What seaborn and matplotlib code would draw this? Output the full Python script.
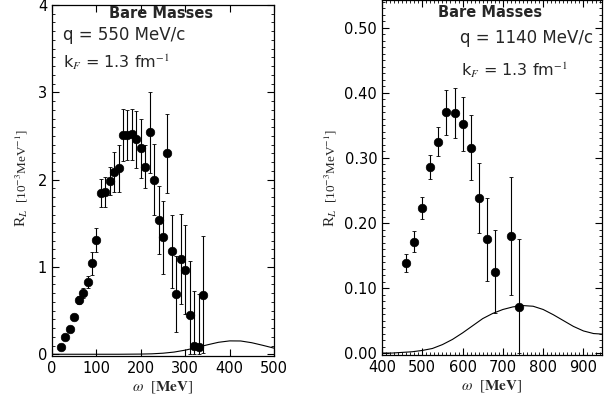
import numpy as np
import pandas as pd
import seaborn as sns
import matplotlib.pyplot as plt
from matplotlib.ticker import MultipleLocator

# q = 550 MeV/c panel
w_550 = [20, 30, 40, 50, 60, 70, 80, 90, 100, 110, 120, 130, 140, 150, 160, 170,
         180, 190, 200, 210, 220, 230, 240, 250, 260, 270, 280, 290, 300, 310,
         320, 330, 340]
rl_550 = [0.08, 0.20, 0.29, 0.43, 0.62, 0.70, 0.83, 1.04, 1.31, 1.85, 1.86, 1.98,
          2.09, 2.13, 2.51, 2.51, 2.52, 2.46, 2.36, 2.15, 2.54, 2.00, 1.54, 1.34,
          2.30, 1.18, 0.69, 1.09, 0.97, 0.45, 0.09, 0.08, 0.68]
err_550 = [0.02, 0.02, 0.03, 0.03, 0.05, 0.06, 0.07, 0.13, 0.14, 0.16, 0.17, 0.16,
           0.23, 0.27, 0.30, 0.29, 0.29, 0.33, 0.34, 0.25, 0.46, 0.41, 0.39, 0.42,
           0.45, 0.42, 0.43, 0.52, 0.51, 0.62, 0.64, 0.61, 0.67]
curve_w_550 = [0, 100, 150, 200, 225, 250, 275, 300, 325, 350, 375, 400, 425, 450,
               475, 500]
curve_rl_550 = [0.0, 0.0, 0.0, 0.002, 0.005, 0.012, 0.025, 0.047, 0.076, 0.108,
                0.137, 0.153, 0.152, 0.132, 0.102, 0.070]

# q = 1140 MeV/c panel
w_1140 = [460, 480, 500, 520, 540, 560, 580, 600, 620, 640, 660, 680, 720, 740]
rl_1140 = [0.138, 0.171, 0.223, 0.286, 0.325, 0.370, 0.369, 0.352, 0.316, 0.238,
           0.175, 0.125, 0.180, 0.071]
err_1140 = [0.014, 0.016, 0.017, 0.019, 0.022, 0.034, 0.039, 0.042, 0.050, 0.054,
            0.064, 0.064, 0.091, 0.104]
curve_w_1140 = [400, 425, 450, 475, 500, 525, 550, 575, 600, 625, 650, 675, 700,
                725, 750, 775, 800, 825, 850, 875, 900, 925, 950]
curve_rl_1140 = [0.0, 0.0, 0.001, 0.002, 0.004, 0.007, 0.013, 0.021, 0.031, 0.042,
                 0.053, 0.061, 0.067, 0.071, 0.073, 0.072, 0.067, 0.059, 0.050,
                 0.041, 0.034, 0.030, 0.029]

sns.set_style("ticks")
plt.rcParams['font.family'] = ['DejaVu Sans']
plt.rcParams['mathtext.fontset'] = 'stix'

fig = plt.figure(figsize=(6.05, 4.0), dpi=100)
ax1 = fig.add_axes([52 / 605, 44 / 400, 222 / 605, 351 / 400])
ax2 = fig.add_axes([382 / 605, 45 / 400, 220 / 605, 355 / 400])


def draw(ax, w, rl, err, cw, crl):
    pts = pd.DataFrame({"w": w, "rl": rl})
    cur = pd.DataFrame({"w": cw, "rl": crl})
    lo = [min(e, r) for r, e in zip(rl, err)]
    ax.errorbar(w, rl, yerr=[lo, err], fmt='none', ecolor='black',
                elinewidth=0.8, capsize=1.2, capthick=0.6)
    sns.scatterplot(data=pts, x="w", y="rl", ax=ax, color='black', s=38,
                    edgecolor='black', zorder=3)
    sns.lineplot(data=cur, x="w", y="rl", ax=ax, color='black', linewidth=0.8)
    ax.tick_params(which='both', direction='in', top=True, right=True,
                   labelsize=10.5, colors='black')
    ax.tick_params(which='major', length=5, width=0.8)
    ax.tick_params(which='minor', length=2.5, width=0.6)
    for s in ax.spines.values():
        s.set_linewidth(0.9)
        s.set_color('black')
    ax.set_xlabel(r"$\omega$  [$\mathbf{MeV}$]", fontsize=11, labelpad=2,
                  family='Liberation Serif')
    ax.set_ylabel("")


draw(ax1, w_550, rl_550, err_550, curve_w_550, curve_rl_550)
ax1.set_xlim(0, 500)
ax1.set_ylim(-0.02, 4.0)
ax1.xaxis.set_major_locator(MultipleLocator(100))
ax1.yaxis.set_major_locator(MultipleLocator(1))
ax1.yaxis.set_minor_locator(MultipleLocator(0.1))
ax1.text(0.49, 0.976, "Bare Masses", transform=ax1.transAxes, ha='center',
         va='center', fontsize=10.5, fontweight='bold')
ax1.text(0.05, 0.915, "q = 550 MeV/c", transform=ax1.transAxes, ha='left',
         va='center', fontsize=12)
ax1.text(0.05, 0.837, r"k$_F$ = 1.3 fm$^{-1}$", transform=ax1.transAxes,
         ha='left', va='center', fontsize=11.5)

draw(ax2, w_1140, rl_1140, err_1140, curve_w_1140, curve_rl_1140)
ax2.set_xlim(400, 946)
ax2.set_ylim(-0.003, 0.543)
ax2.xaxis.set_major_locator(MultipleLocator(100))
ax2.xaxis.set_minor_locator(MultipleLocator(10))
ax2.yaxis.set_major_locator(MultipleLocator(0.1))
ax2.yaxis.set_minor_locator(MultipleLocator(0.01))
ax2.yaxis.set_major_formatter(lambda v, p: f"{v:.2f}")
ax2.text(0.49, 0.965, "Bare Masses", transform=ax2.transAxes, ha='center',
         va='center', fontsize=10.5, fontweight='bold')
ax2.text(0.355, 0.893, "q = 1140 MeV/c", transform=ax2.transAxes, ha='left',
         va='center', fontsize=12)
ax2.text(0.36, 0.803, r"k$_F$ = 1.3 fm$^{-1}$", transform=ax2.transAxes,
         ha='left', va='center', fontsize=11.5)

for x in (22 / 605, 331 / 605):
    fig.text(x, 1 - 218 / 400, r"R$_L$", rotation=90, ha='center', va='center',
             fontsize=11, family='Liberation Serif')
    fig.text(x, 1 - 166 / 400, r"[10$^{-3}$MeV$^{-1}$]", rotation=90,
             ha='center', va='center', fontsize=9.5, family='Liberation Serif')

fig.savefig("out.png", dpi=100)
